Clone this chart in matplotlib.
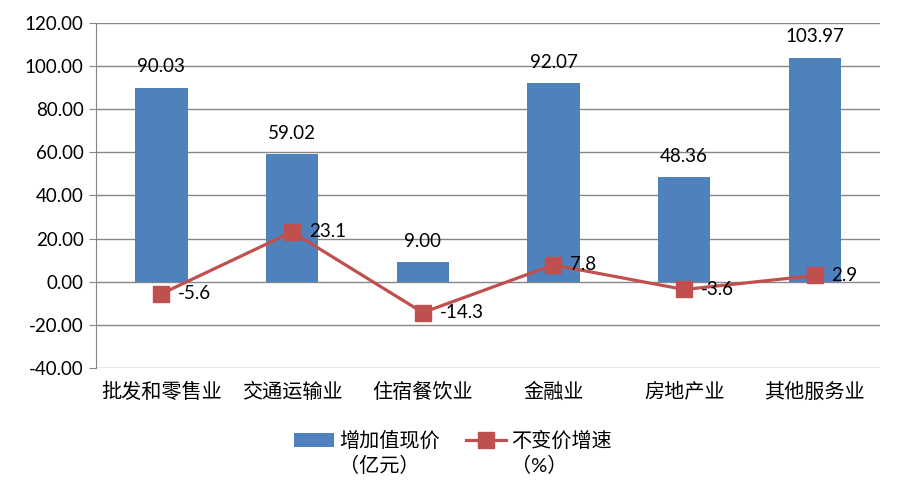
import matplotlib
matplotlib.use("Agg")
import matplotlib.pyplot as plt
import numpy as np

plt.rcParams["font.family"] = ["Lato", "Noto Sans CJK SC", "DejaVu Sans"]

categories = ["批发和零售业", "交通运输业", "住宿餐饮业", "金融业", "房地产业", "其他服务业"]
value_added = [90.03, 59.02, 9.00, 92.07, 48.36, 103.97]
growth = [-5.6, 23.1, -14.3, 7.8, -3.6, 2.9]
yticks = [-40, -20, 0, 20, 40, 60, 80, 100, 120]
legend_names = ["增加值现价", "不变价增速"]
legend_units = ["（亿元）", "（%）"]

BAR_COLOR = "#4F81BD"
LINE_COLOR = "#C0504D"
GRID_COLOR = "#868686"

W, H = 900, 497
fig = plt.figure(figsize=(W / 100, H / 100), dpi=100)
ax = fig.add_axes([0.1067, 0.2596, 0.8713, 0.6941])

x = np.arange(len(categories))
bars = ax.bar(x, value_added, width=0.4, color=BAR_COLOR, zorder=2)
line, = ax.plot(x, growth, color=LINE_COLOR, linewidth=2.3, marker="s", markersize=12, zorder=3)

for xi, v in zip(x, value_added):
    ax.annotate(f"{v:.2f}", (xi, v), xytext=(0, 9), textcoords="offset points",
                ha="center", va="bottom", fontsize=13.5, color="#000000")
for xi, v in zip(x, growth):
    ax.annotate(f"{v:.1f}", (xi, v), xytext=(12, 0), textcoords="offset points",
                ha="left", va="center", fontsize=13.5, color="#000000")

ax.set_xlim(-0.5, len(categories) - 0.5)
ax.set_ylim(-40, 120)
ax.set_yticks(yticks)
ax.set_yticklabels([f"{t:.2f}" for t in yticks], fontsize=13.5)
ax.set_xticks(x)
ax.set_xticklabels(categories, fontsize=14.5)
ax.tick_params(axis="x", length=0, pad=10)
ax.tick_params(axis="y", length=5, color=GRID_COLOR, pad=4)
ax.grid(axis="y", color=GRID_COLOR, linewidth=1, zorder=0)
for side in ["top", "right", "bottom"]:
    ax.spines[side].set_visible(False)
ax.spines["left"].set_color(GRID_COLOR)

# legend: first line with the handle, unit on a second line underneath
leg = fig.legend([bars, line], legend_names, loc="center",
                 bbox_to_anchor=(453 / W, 1 - 440 / H), ncol=2, frameon=False,
                 fontsize=14.5, handlelength=2.0, columnspacing=1.3, handletextpad=0.25,
                 borderpad=0, borderaxespad=0)
fig.canvas.draw()
renderer = fig.canvas.get_renderer()
for t, unit in zip(leg.get_texts(), legend_units):
    bb = t.get_window_extent(renderer)
    yc = (bb.y0 + bb.y1) / 2
    fig.text(bb.x0 / W, (yc - 25) / H, unit, fontsize=14.5, ha="left", va="center")

fig.savefig("out.png", dpi=100)
